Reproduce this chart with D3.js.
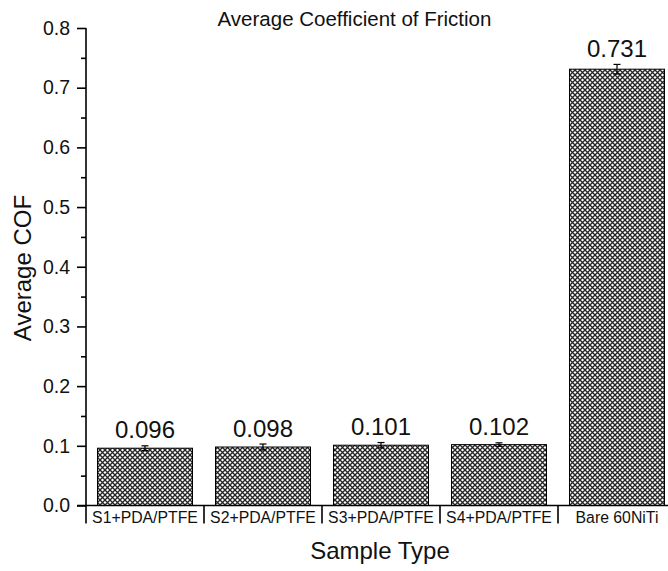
<!DOCTYPE html>
<html>
<head>
<meta charset="utf-8">
<script src="https://cdn.jsdelivr.net/npm/d3@7"></script>
<style>
  html, body { margin: 0; padding: 0; background: #fff; }
  svg { display: block; font-family: "Liberation Sans", Arial, sans-serif; }
</style>
</head>
<body>
<svg id="chart" width="668" height="571"></svg>
<script>
// Sample groups and their measured average coefficient of friction
const categories = ["S1+PDA/PTFE", "S2+PDA/PTFE", "S3+PDA/PTFE", "S4+PDA/PTFE", "Bare 60NiTi"];
const cofValues  = [0.096, 0.098, 0.101, 0.102, 0.731];
const cofErrors  = [0.004, 0.005, 0.0045, 0.003, 0.008];
const valueLabels = ["0.096", "0.098", "0.101", "0.102", "0.731"];
const yTicks = [0, 0.1, 0.2, 0.3, 0.4, 0.5, 0.6, 0.7, 0.8];
const yMinorTicks = [0.05, 0.15, 0.25, 0.35, 0.45, 0.55, 0.65, 0.75];

const svg = d3.select("#chart");

const x = d3.scaleBand()
  .domain(categories)
  .range([86, 676])
  .paddingInner(0.195)
  .paddingOuter(0.0975);

const y = d3.scaleLinear().domain([0, 0.8]).range([505.5, 28]);

// cross-hatch fill for the bars
const tile = 5;
const defs = svg.append("defs");
const pat = defs.append("pattern")
  .attr("id", "hatch")
  .attr("patternUnits", "userSpaceOnUse")
  .attr("width", tile).attr("height", tile);
pat.append("rect").attr("width", tile).attr("height", tile).attr("fill", "#fff");
pat.append("path")
  .attr("d", `M0,0L${tile},${tile}M${tile},0L0,${tile}`)
  .attr("stroke", "#262626").attr("stroke-width", 1.35);

// bars
svg.append("g").selectAll("rect")
  .data(categories)
  .join("rect")
  .attr("x", d => x(d))
  .attr("y", (d, i) => y(cofValues[i]))
  .attr("width", x.bandwidth())
  .attr("height", (d, i) => y(0) - y(cofValues[i]))
  .attr("fill", "url(#hatch)")
  .attr("stroke", "#000")
  .attr("stroke-width", 1);

// error bars
const eb = svg.append("g").attr("stroke", "#000").attr("stroke-width", 1.2);
categories.forEach((c, i) => {
  const cx = x(c) + x.bandwidth() / 2;
  const top = y(cofValues[i] + cofErrors[i]);
  const bot = y(cofValues[i] - cofErrors[i]);
  eb.append("line").attr("x1", cx).attr("x2", cx).attr("y1", top).attr("y2", bot);
  eb.append("line").attr("x1", cx - 3.5).attr("x2", cx + 3.5).attr("y1", top).attr("y2", top);
  eb.append("line").attr("x1", cx - 3.5).attr("x2", cx + 3.5).attr("y1", bot).attr("y2", bot);
});

// value labels above each bar
svg.append("g").selectAll("text")
  .data(categories)
  .join("text")
  .attr("x", d => x(d) + x.bandwidth() / 2)
  .attr("y", (d, i) => y(cofValues[i] + cofErrors[i]) - 7.5)
  .attr("text-anchor", "middle")
  .attr("font-size", 24)
  .attr("fill", "#111")
  .text((d, i) => valueLabels[i]);

// y axis
const yAxis = svg.append("g").attr("transform", "translate(86,0)")
  .call(d3.axisLeft(y).tickValues(yTicks).tickFormat(d3.format(".1f")).tickSize(9).tickSizeOuter(0).tickPadding(7));
yAxis.select(".domain").remove();
yAxis.selectAll(".tick line").attr("stroke-width", 1.6);
yAxis.selectAll(".tick text").attr("font-size", 19.5).attr("fill", "#111").attr("font-family", "Liberation Sans, Arial, sans-serif");

const yMinor = svg.append("g").attr("transform", "translate(86,0)")
  .call(d3.axisLeft(y).tickValues(yMinorTicks).tickFormat("").tickSize(5).tickSizeOuter(0));
yMinor.select(".domain").remove();
yMinor.selectAll(".tick line").attr("stroke-width", 1.6);

svg.append("line")
  .attr("x1", 86).attr("x2", 86)
  .attr("y1", y(0.8)).attr("y2", y(0) + 18)
  .attr("stroke", "#000").attr("stroke-width", 1.6);

// x axis line with separators between categories
svg.append("line")
  .attr("x1", 77).attr("x2", 676)
  .attr("y1", y(0)).attr("y2", y(0))
  .attr("stroke", "#000").attr("stroke-width", 1.6);

const bounds = categories.map(c => x(c) - x.step() * x.paddingInner() / 2).slice(1);
svg.append("g").selectAll("line")
  .data(bounds)
  .join("line")
  .attr("x1", d => d).attr("x2", d => d)
  .attr("y1", y(0)).attr("y2", y(0) + 18)
  .attr("stroke", "#000").attr("stroke-width", 1.6);

svg.append("g").selectAll("text")
  .data(categories)
  .join("text")
  .attr("x", d => x(d) + x.bandwidth() / 2)
  .attr("y", y(0) + 17)
  .attr("text-anchor", "middle")
  .attr("font-size", 15.8)
  .attr("fill", "#111")
  .text(d => d);

// titles
svg.append("text")
  .attr("x", 354.5).attr("y", 26)
  .attr("text-anchor", "middle")
  .attr("font-size", 20.5)
  .attr("fill", "#111")
  .text("Average Coefficient of Friction");

svg.append("text")
  .attr("x", 380).attr("y", 559)
  .attr("text-anchor", "middle")
  .attr("font-size", 24)
  .attr("fill", "#111")
  .text("Sample Type");

svg.append("text")
  .attr("transform", "translate(31,268) rotate(-90)")
  .attr("text-anchor", "middle")
  .attr("font-size", 24)
  .attr("fill", "#111")
  .text("Average COF");
</script>
</body>
</html>
